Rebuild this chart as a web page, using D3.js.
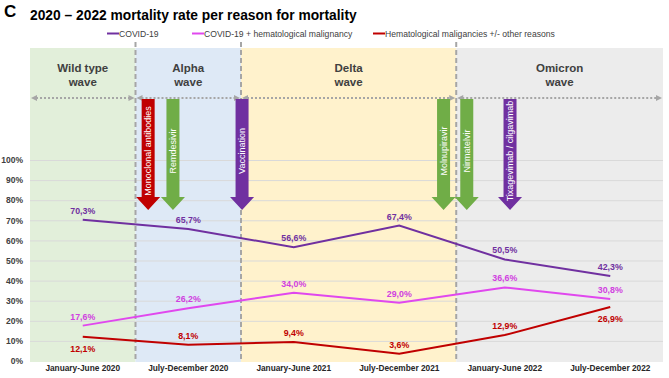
<!DOCTYPE html>
<html><head><meta charset="utf-8">
<script src="https://cdn.jsdelivr.net/npm/d3@7"></script>
<style>
html,body{margin:0;padding:0;background:#fff;}
svg{display:block;font-family:Arial,"Liberation Sans",sans-serif;}
</style></head>
<body><svg id="chart" width="669" height="378"></svg>
<script>
// ---- data ----
const categories = ["January-June 2020","July-December 2020","January-June 2021","July-December 2021","January-June 2022","July-December 2022"];
const seriesNames = ["COVID-19","COVID-19 + hematological malignancy","Hematological maligancies +/- other reasons"];
const covid = [70.3, 65.7, 56.6, 67.4, 50.5, 42.3];
const covidHem = [17.6, 26.2, 34.0, 29.0, 36.6, 30.8];
const hemOther = [12.1, 8.1, 9.4, 3.6, 12.9, 26.9];
const yTicks = [0,10,20,30,40,50,60,70,80,90,100];
// waves in half-year units (0 = Jan 2020)
const waveNames = [["Wild type","wave"],["Alpha","wave"],["Delta","wave"],["Omicron","wave"]];
const waveStart = [0, 1, 2, 4.04];
const waveEnd = [1, 2, 4.04, 6];
// treatments (time in half-year units)
const treatNames = ["Monoclonal antibodies","Remdesivir","Vaccination","Molnupiravir","Nirmatelvir","Tixagevimab / cilgavimab"];
const treatTime = [1.12, 1.355, 2.01, 3.92, 4.14, 4.55];
const treatKind = ["red","green","purple","green","green","purple"];

// ---- styles ----
const seriesColor = ["#7030a0","#e048ee","#c00000"];
const labelColor = ["#7030a0","#d040e0","#c00000"];
const waveFill = ["#e2efda","#dee9f6","#fff2cc","#ececec"];
const treatColor = {red:"#c00000", green:"#70ad47", purple:"#7030a0"};

const svg = d3.select("#chart");
const X0 = 30, X1 = 663;
const xt = d3.scaleLinear().domain([0,6]).range([X0,X1]);
const x = d3.scaleBand().domain(categories).range([X0,X1]);
const y = d3.scaleLinear().domain([0,100]).range([361,160]);
const cx = c => x(c) + x.bandwidth()/2;

// wave panels
const panelTop = 48, panelBot = 362;
waveNames.forEach((w,i)=>{
  svg.append("rect").attr("x",xt(waveStart[i])).attr("y",panelTop)
    .attr("width",xt(waveEnd[i])-xt(waveStart[i])).attr("height",panelBot-panelTop)
    .attr("fill",waveFill[i]);
  const mx = (xt(waveStart[i])+xt(waveEnd[i]))/2;
  const t = svg.append("text").attr("x",mx).attr("y",72).attr("text-anchor","middle")
    .attr("font-size",11.5).attr("font-weight","bold").attr("fill","#404040");
  t.append("tspan").attr("x",mx).attr("dy",0).text(w[0]);
  t.append("tspan").attr("x",mx).attr("dy",14).text(w[1]);
});

// gridlines
svg.append("g").selectAll("line").data(yTicks.filter(d=>d>0)).join("line")
  .attr("x1",X0).attr("x2",X1).attr("y1",d=>y(d)+0.5).attr("y2",d=>y(d)+0.5)
  .attr("stroke","#d9d9d9").attr("stroke-width",1);

// dotted double arrows per wave
const dotY = 98;
const dg = svg.append("g");
waveNames.forEach((w,i)=>{
  const a = xt(waveStart[i])+1, b = xt(waveEnd[i])-1;
  dg.append("line").attr("x1",a+5).attr("x2",b-5).attr("y1",dotY).attr("y2",dotY)
    .attr("stroke","#a6a6a6").attr("stroke-width",2).attr("stroke-dasharray","2,2");
  dg.append("path").attr("d",`M${a},${dotY} L${a+6},${dotY-3} L${a+6},${dotY+3} Z`).attr("fill","#a6a6a6");
  dg.append("path").attr("d",`M${b},${dotY} L${b-6},${dotY-3} L${b-6},${dotY+3} Z`).attr("fill","#a6a6a6");
});

// dashed wave boundaries
svg.append("g").selectAll("line").data(waveStart.slice(1)).join("line")
  .attr("x1",d=>xt(d)).attr("x2",d=>xt(d)).attr("y1",42).attr("y2",362)
  .attr("stroke","#a6a6a6").attr("stroke-width",2).attr("stroke-dasharray","5,3");

// treatment arrows
const shaftTop = 99, headStart = 197, tip = 210, sw = 6.5, hw = 12;
treatNames.forEach((n,i)=>{
  const px = xt(treatTime[i]);
  svg.append("path")
    .attr("d",`M${px-sw},${shaftTop} L${px+sw},${shaftTop} L${px+sw},${headStart} L${px+hw},${headStart} L${px},${tip} L${px-hw},${headStart} L${px-sw},${headStart} Z`)
    .attr("fill",treatColor[treatKind[i]]);
  svg.append("text").attr("transform",`translate(${px+3.2},151) rotate(-90)`)
    .attr("text-anchor","middle").attr("font-size",9).attr("fill","#fff").text(n);
});

// y axis
const yAxis = svg.append("g").attr("transform","translate(23,0)")
  .call(d3.axisLeft(y).tickValues(yTicks).tickSize(0).tickFormat(d=>d+"%"));
yAxis.select(".domain").remove();
yAxis.selectAll("text").attr("font-size",8.5).attr("font-weight","bold").attr("fill","#404040")
  .attr("font-family","Arial,'Liberation Sans',sans-serif").attr("x",0);

// x axis
const xAxis = svg.append("g").attr("transform","translate(0,362)")
  .call(d3.axisBottom(x).tickSize(0));
xAxis.select(".domain").remove();
xAxis.selectAll("text").attr("font-size",8.3).attr("font-weight","bold").attr("fill","#262626")
  .attr("font-family","Arial,'Liberation Sans',sans-serif").attr("dy","0.71em").attr("y",3);

// lines
const allSeries = [covid, covidHem, hemOther];
const line = d3.line().x((d,i)=>cx(categories[i])).y(d=>y(d));
allSeries.forEach((s,k)=>{
  svg.append("path").datum(s).attr("d",line).attr("fill","none")
    .attr("stroke",seriesColor[k]).attr("stroke-width",2);
});

// data labels
const below = [[false,false,false,false,false,false],[false,false,false,false,false,false],[true,false,false,false,false,true]];
allSeries.forEach((s,k)=>{
  svg.append("g").selectAll("text").data(s).join("text")
    .attr("x",(d,i)=>cx(categories[i]))
    .attr("y",(d,i)=>below[k][i] ? y(d)+15 : y(d)-6)
    .attr("text-anchor","middle").attr("font-size",8.8).attr("font-weight","bold")
    .attr("fill",labelColor[k])
    .text(d=>d.toFixed(1).replace(".",",")+"%");
});

// legend
const legX = [107, 192, 373];
seriesNames.forEach((n,k)=>{
  svg.append("line").attr("x1",legX[k]).attr("x2",legX[k]+12).attr("y1",33.5).attr("y2",33.5)
    .attr("stroke",seriesColor[k]).attr("stroke-width",2);
  svg.append("text").attr("x",legX[k]+12).attr("y",36.5).attr("font-size",8.6).attr("fill","#404040").text(n);
});

// title
svg.append("text").attr("x",4).attr("y",17).attr("font-size",17).attr("font-weight","bold").attr("fill","#000").text("C");
svg.append("text").attr("x",30).attr("y",20).attr("font-size",13.8).attr("font-weight","bold").attr("fill","#000")
  .text("2020 – 2022 mortality rate per reason for mortality");
</script></body></html>
